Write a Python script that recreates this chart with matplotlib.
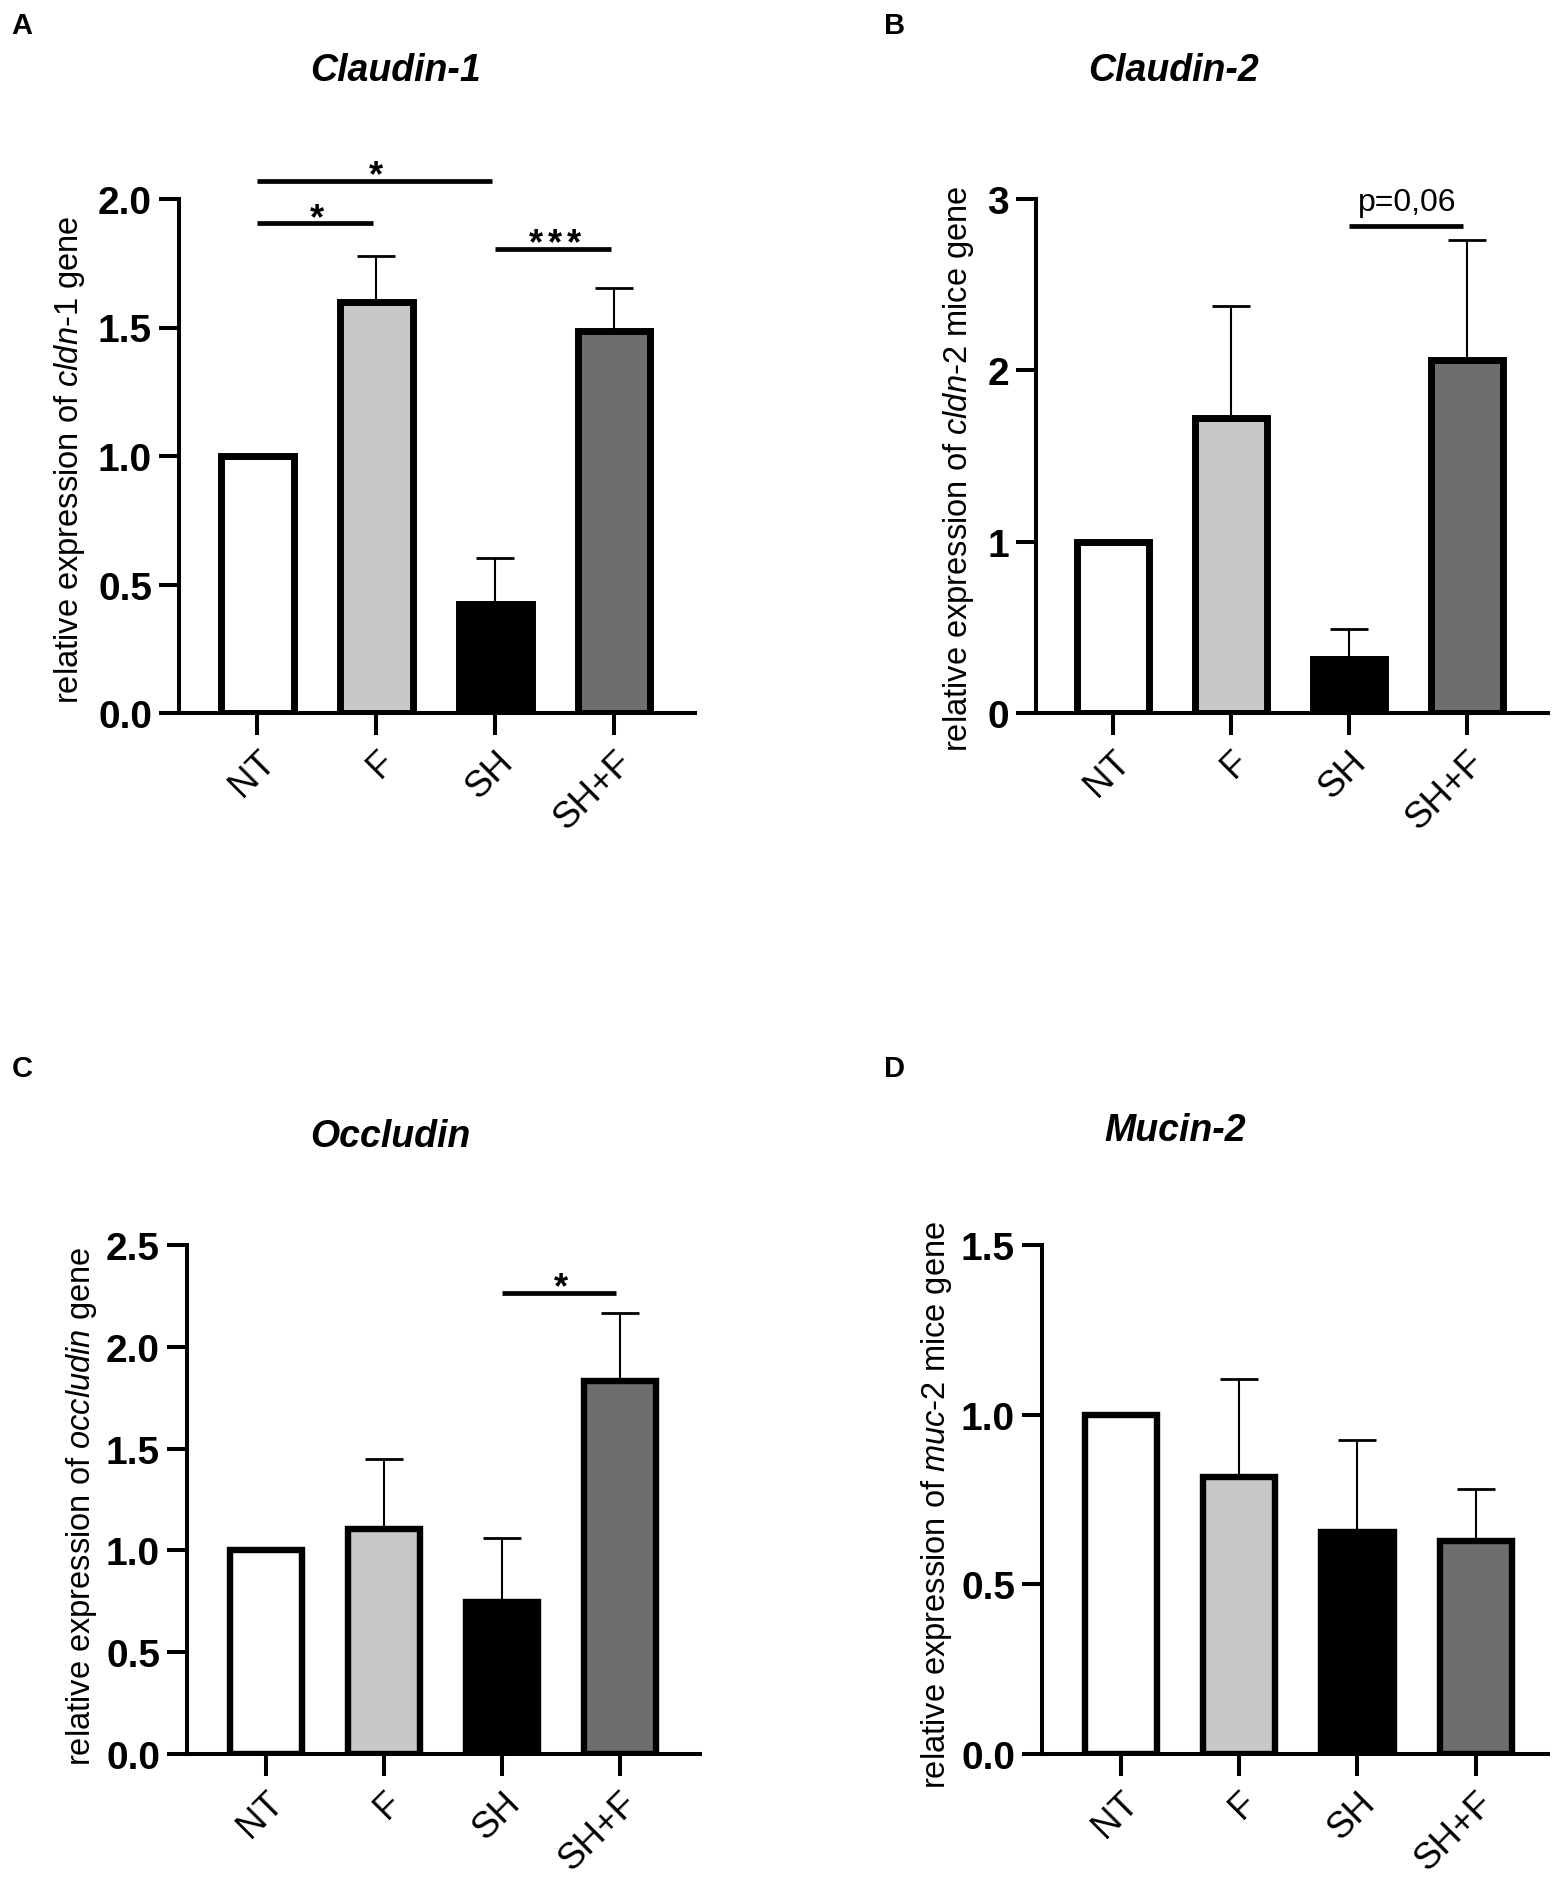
import matplotlib
matplotlib.use("Agg")
import matplotlib.pyplot as plt
import numpy as np

plt.rcParams['font.family'] = ['Liberation Sans', 'DejaVu Sans']
plt.rcParams['mathtext.fontset'] = 'custom'
plt.rcParams['mathtext.rm'] = 'Liberation Sans'
plt.rcParams['mathtext.it'] = 'Liberation Sans:italic'
plt.rcParams['mathtext.bf'] = 'Liberation Sans:bold'

# ---------------- data ----------------
groups = ["NT", "F", "SH", "SH+F"]
bar_colors = ["#ffffff", "#c8c8c8", "#000000", "#6e6e6e"]

cldn1_mean = [1.0, 1.60, 0.423, 1.486]
cldn1_err = [0.0, 0.18, 0.18, 0.167]
cldn1_ticks = [0.0, 0.5, 1.0, 1.5, 2.0]

cldn2_mean = [1.0, 1.723, 0.314, 2.06]
cldn2_err = [0.0, 0.655, 0.176, 0.70]
cldn2_ticks = [0, 1, 2, 3]

occl_mean = [1.0, 1.107, 0.749, 1.833]
occl_err = [0.0, 0.342, 0.31, 0.334]
occl_ticks = [0.0, 0.5, 1.0, 1.5, 2.0, 2.5]

muc2_mean = [1.0, 0.815, 0.654, 0.629]
muc2_err = [0.0, 0.289, 0.272, 0.152]
muc2_ticks = [0.0, 0.5, 1.0, 1.5]

# significance: (group i, group j, height, label)
cldn1_sig = [(0, 2, 2.07, "*"), (0, 1, 1.905, "*"), (2, 3, 1.807, "***")]
cldn2_sig = [(2, 3, 2.84, "p=0,06")]
occl_sig = [(2, 3, 2.266, "*")]
muc2_sig = []

titles = ["Claudin-1", "Claudin-2", "Occludin", "Mucin-2"]
ylabels = [
    r"relative expression of $\mathit{cldn}$-$\mathit{1}$ gene",
    r"relative expression of $\mathit{cldn}$-2 mice gene",
    r"relative expression of $\mathit{occludin}$ gene",
    r"relative expression of $\mathit{muc}$-2 mice gene",
]
letters = ["A", "B", "C", "D"]

# ---------------- layout ----------------
W, H = 1562, 1883
fig = plt.figure(figsize=(W / 100, H / 100), dpi=100)


def rect(left, right, top, bottom):
    return [left / W, 1 - bottom / H, (right - left) / W, (bottom - top) / H]


panels = [
    dict(rect=rect(179, 695, 200, 714), xlim=(-0.66, 3.68), mean=cldn1_mean, err=cldn1_err,
         ticks=cldn1_ticks, fmt="{:.1f}", sig=cldn1_sig, ew=5.0,
         title_xy=(396, 71), letter_xy=(22, 26), ylab_xy=(70, 460)),
    dict(rect=rect(1036, 1548, 200, 714), xlim=(-0.65, 3.69), mean=cldn2_mean, err=cldn2_err,
         ticks=cldn2_ticks, fmt="{:d}", sig=cldn2_sig, ew=5.0,
         title_xy=(1174, 71), letter_xy=(895, 26), ylab_xy=(958, 469)),
    dict(rect=rect(187, 700, 1246, 1755), xlim=(-0.67, 3.68), mean=occl_mean, err=occl_err,
         ticks=occl_ticks, fmt="{:.1f}", sig=occl_sig, ew=4.6,
         title_xy=(390, 1137), letter_xy=(22, 1069), ylab_xy=(82, 1506)),
    dict(rect=rect(1042, 1548, 1246, 1755), xlim=(-0.665, 3.61), mean=muc2_mean, err=muc2_err,
         ticks=muc2_ticks, fmt="{:.1f}", sig=muc2_sig, ew=4.6,
         title_xy=(1175, 1131), letter_xy=(895, 1069), ylab_xy=(937, 1505)),
]

x = np.arange(len(groups))

for k, p in enumerate(panels):
    ax = fig.add_axes(p["rect"])
    ax.bar(x, p["mean"], width=0.61, color=bar_colors, edgecolor="black",
           linewidth=p["ew"], zorder=3)
    err = np.array(p["err"])
    mean = np.array(p["mean"])
    m = err > 0
    ax.errorbar(x[m], mean[m], yerr=[np.zeros(m.sum()), err[m]], fmt="none",
                ecolor="black", elinewidth=1.5, capsize=14, capthick=2.0, zorder=2)
    ax.set_xlim(*p["xlim"])
    ax.set_ylim(p["ticks"][0], p["ticks"][-1])
    ax.set_yticks(p["ticks"])
    ax.set_yticklabels([p["fmt"].format(t) for t in p["ticks"]],
                       fontsize=28, fontweight="bold")
    ax.set_xticks(x)
    ax.set_xticklabels(groups, fontsize=26.5, rotation=45, ha="right",
                       rotation_mode="anchor")
    for s in ["top", "right"]:
        ax.spines[s].set_visible(False)
    for s in ["left", "bottom"]:
        ax.spines[s].set_linewidth(2.9)
    ax.tick_params(axis="y", length=14.4, width=2.9, pad=5)
    ax.tick_params(axis="x", length=16, width=2.9, pad=6)
    ax.patch.set_alpha(0)

    for (i, j, h, lab) in p["sig"]:
        ax.plot([i + 0.0, j - 0.03], [h, h], color="black", lw=3.4,
                solid_capstyle="butt", clip_on=False, zorder=4)
        xc = (i + j) / 2
        if lab.startswith("p"):
            ax.annotate(lab, xy=(xc, h), xytext=(0, 7),
                        textcoords="offset points", ha="center", va="bottom",
                        fontsize=23, annotation_clip=False)
        else:
            n = len(lab)
            step = 13.7
            for q, ch in enumerate(lab):
                dx = (q - (n - 1) / 2) * step
                ax.annotate(ch, xy=(xc, h), xytext=(dx, -3.2),
                            textcoords="offset points", ha="center", va="baseline",
                            fontsize=26, fontweight="bold", annotation_clip=False)

    tx, ty = p["title_xy"]
    fig.text(tx / W, 1 - ty / H, titles[k], fontsize=27, fontweight="bold",
             fontstyle="italic", ha="center", va="center")
    lx, ly = p["letter_xy"]
    fig.text(lx / W, 1 - ly / H, letters[k], fontsize=21, fontweight="bold",
             ha="center", va="center")
    yx, yy = p["ylab_xy"]
    fig.text(yx / W, 1 - yy / H, ylabels[k], fontsize=23.5, rotation=90,
             ha="center", va="center")

fig.savefig("out.png", dpi=100, facecolor="white")
